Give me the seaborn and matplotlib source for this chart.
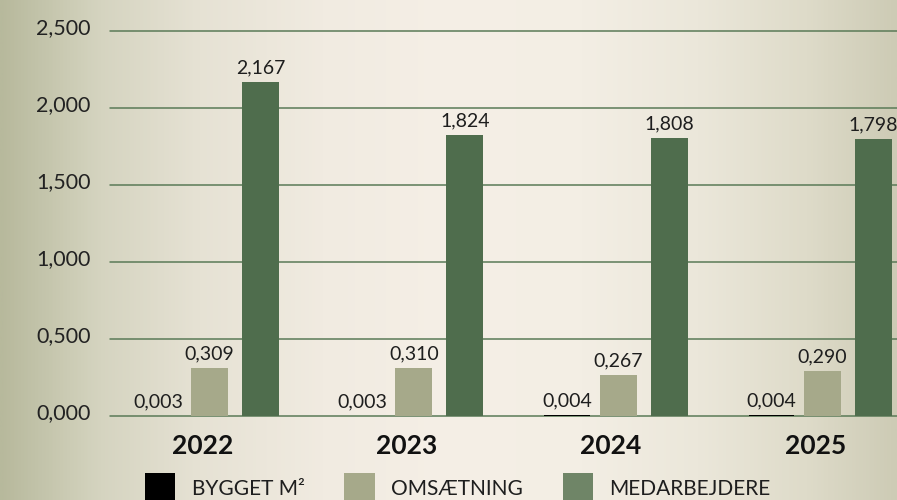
import matplotlib

matplotlib.use("Agg")

import matplotlib.pyplot as plt
import matplotlib.transforms as mtransforms
from matplotlib.colors import LinearSegmentedColormap, to_rgb
from matplotlib.patches import Patch
import numpy as np
import pandas as pd
import seaborn as sns

years = ["2022", "2023", "2024", "2025"]
series = ["BYGGET M²", "OMSÆTNING", "MEDARBEJDERE"]
bygget = [0.003, 0.003, 0.004, 0.004]
omsaetning = [0.309, 0.310, 0.267, 0.290]
medarbejdere = [2.167, 1.824, 1.808, 1.798]
y_ticks = [0.0, 0.5, 1.0, 1.5, 2.0, 2.5]

bar_colors = ["#000000", "#a6a98a", "#4f6d4d"]
legend_colors = ["#000000", "#a6a98a", "#6f8567"]
grid_color = "#5a7a57"

df = pd.DataFrame({
    "year": years * 3,
    "serie": [s for s in series for _ in years],
    "value": bygget + omsaetning + medarbejdere,
})


def da(v: float) -> str:
    return f"{v:.3f}".replace(".", ",")


sns.set_theme(style="white")
plt.rcParams["font.family"] = ["Lato", "DejaVu Sans"]

fig = plt.figure(figsize=(8.97, 5.0), dpi=100)

# background gradient across the whole figure
stops = [(0.0, "#b7b99c"), (0.11, "#d5d4c0"), (0.22, "#e6e2d4"), (0.36, "#f1ebe1"),
         (0.5, "#f5efe6"), (0.65, "#f3eee4"), (0.78, "#ebe7da"), (0.9, "#dedbc9"),
         (1.0, "#cdcbb5")]
cmap = LinearSegmentedColormap.from_list("bg", [(p, to_rgb(c)) for p, c in stops])
bg = fig.add_axes([0, 0, 1, 1], zorder=-10)
bg.imshow(np.linspace(0, 1, 512)[None, :], cmap=cmap, aspect="auto", extent=(0, 1, 0, 1))
bg.set_axis_off()

ax = fig.add_axes([110 / 897, 84 / 500, 1 - 110 / 897, 385 / 500])
ax.set_facecolor("none")

sns.barplot(
    data=df, x="year", y="value", hue="serie", hue_order=series,
    palette=bar_colors, width=0.75, gap=0.28, legend=False, ax=ax,
    saturation=1, linewidth=0, edgecolor="none", zorder=3,
)

# the tiny black bars are drawn a little wider in the original
for p in ax.containers[0]:
    cx = p.get_x() + p.get_width() / 2
    p.set_width(p.get_width() * 1.24)
    p.set_x(cx - p.get_width() / 2)

for container, vals in zip(ax.containers, [bygget, omsaetning, medarbejdere]):
    ax.bar_label(container, labels=[da(v) for v in vals], padding=4,
                 fontsize=14, color="#1e1e1e")

ax.set_xlim(-0.487, 3.365)
ax.set_ylim(0, 2.5)
ax.set_yticks(y_ticks)
ax.set_yticklabels([da(v) for v in y_ticks], fontsize=15.5, color="#222222")
ax.set_xticks(range(len(years)))
ax.set_xticklabels(years, fontsize=19, fontweight="bold", color="#111111")
ax.tick_params(axis="y", length=0, pad=14)
ax.tick_params(axis="x", length=0, pad=13)
y_off = mtransforms.ScaledTranslation(0, 5 / 100, fig.dpi_scale_trans)
for lbl in ax.get_yticklabels():
    lbl.set_transform(lbl.get_transform() + y_off)
x_off = mtransforms.ScaledTranslation(-7 / 100, 0, fig.dpi_scale_trans)
for lbl in ax.get_xticklabels():
    lbl.set_transform(lbl.get_transform() + x_off)

for y in y_ticks:
    ax.axhline(y, color=grid_color, linewidth=1.1, zorder=1, clip_on=False)
for s in ax.spines.values():
    s.set_visible(False)
ax.set_xlabel("")
ax.set_ylabel("")

handles = [Patch(facecolor=c, edgecolor="none") for c in legend_colors]
fig.legend(
    handles, series, loc="upper left", bbox_to_anchor=(145 / 897, 1 - 473 / 500),
    ncol=3, frameon=False, fontsize=15, handlelength=1.45, handleheight=1.9,
    handletextpad=0.8, columnspacing=1.9, borderpad=0, borderaxespad=0,
    labelcolor="#1e1e1e",
)

fig.savefig("out.png", dpi=100)
